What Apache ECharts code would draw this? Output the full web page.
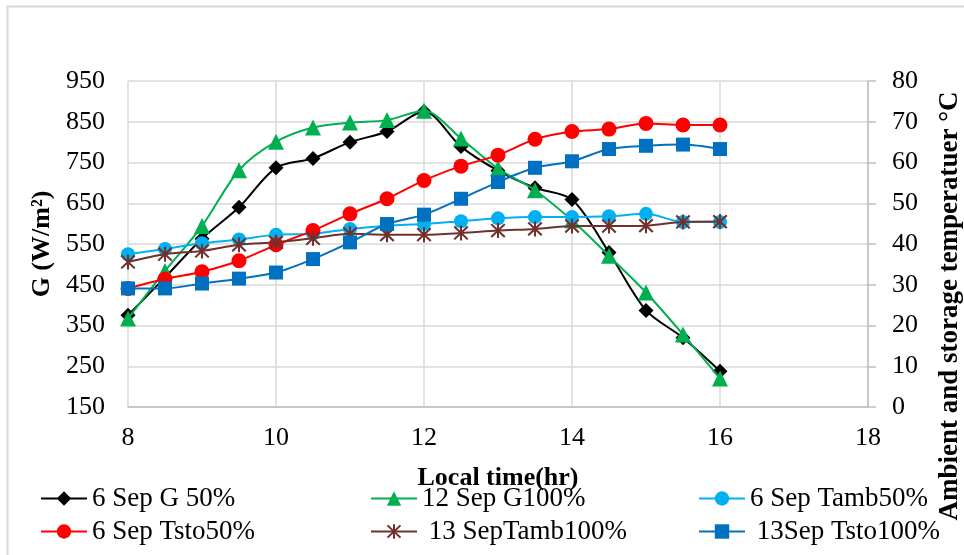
<!DOCTYPE html>
<html>
<head>
<meta charset="utf-8">
<script src="https://cdn.jsdelivr.net/npm/echarts@6/dist/echarts.min.js"></script>
<style>
html,body{margin:0;padding:0;background:#fff;}
#chart{width:964px;height:555px;}
</style>
</head>
<body>
<div id="chart"></div>
<script>
// ---- data ----
var hours = [8, 8.5, 9, 9.5, 10, 10.5, 11, 11.5, 12, 12.5, 13, 13.5, 14, 14.5, 15, 15.5, 16];
var g50Sep6 = [375, 468, 563, 640, 737, 760, 800, 826, 875, 789, 730, 688, 659, 529, 387, 320, 238];
var g100Sep12 = [367, 484, 594, 731, 801, 836, 848, 854, 877, 809, 735, 682, 608, 521, 431, 328, 220];
var tamb50Sep6 = [37.5, 38.8, 40.2, 41.1, 42.3, 42.5, 43.7, 44.5, 44.9, 45.6, 46.3, 46.6, 46.6, 46.8, 47.4, 45.4, 45.4];
var tsto50Sep6 = [29.1, 31.4, 33.2, 35.9, 39.8, 43.3, 47.4, 51.1, 55.6, 59.1, 61.8, 65.7, 67.6, 68.2, 69.6, 69.2, 69.2];
var tamb100Sep13 = [35.6, 37.5, 38.3, 39.8, 40.4, 41.4, 42.5, 42.3, 42.3, 42.7, 43.3, 43.7, 44.4, 44.4, 44.5, 45.4, 45.5];
var tsto100Sep13 = [29.1, 29.1, 30.3, 31.5, 33.0, 36.3, 40.4, 44.9, 47.2, 51.1, 55.2, 58.7, 60.3, 63.3, 64.1, 64.4, 63.3];
var seriesNames = ['6 Sep G 50%', '12 Sep G100%', '6 Sep Tamb50%', '6 Sep Tsto50%', '13 SepTamb100%', '13Sep Tsto100%'];
var gTicks = [150, 250, 350, 450, 550, 650, 750, 850, 950];
var xTitle = 'Local time(hr)';
var leftTitle = 'G (W/m²)';
var rightTitle = 'Ambient and storage temperatuer °C';

function pairs(vals) { return hours.map(function (h, i) { return [h, vals[i]]; }); }

var FONT = '"Liberation Serif", "Times New Roman", serif';
var starPath = 'path://M8.7 0 L11.3 0 L11.3 20 L8.7 20 Z M0.5 2.4 L2.4 0.5 L19.5 17.6 L17.6 19.5 Z M17.6 0.5 L19.5 2.4 L2.4 19.5 L0.5 17.6 Z';

var styles = [
  {color: '#000000', symbol: 'diamond', size: 15, y: 0, data: g50Sep6},
  {color: '#00b050', symbol: 'triangle', size: 16, y: 0, data: g100Sep12},
  {color: '#00b0f0', symbol: 'circle', size: 14, y: 1, data: tamb50Sep6},
  {color: '#ff0000', symbol: 'circle', size: 15, y: 1, data: tsto50Sep6},
  {color: '#70302c', symbol: starPath, size: 15, y: 1, data: tamb100Sep13},
  {color: '#0070c0', symbol: 'rect', size: 14, y: 1, data: tsto100Sep13}
];

var series = styles.map(function (s, i) {
  return {
    name: seriesNames[i],
    type: 'line',
    yAxisIndex: s.y,
    data: pairs(s.data),
    smooth: 0.3,
    symbol: s.symbol,
    symbolSize: s.size,
    showAllSymbol: true,
    lineStyle: {color: s.color, width: 2},
    itemStyle: {color: s.color, borderWidth: 0},
    emphasis: {disabled: true},
    z: 2 + i
  };
});

var legendPos = [
  {left: 40, top: 485}, {left: 370, top: 485}, {left: 698, top: 485},
  {left: 40, top: 518}, {left: 370, top: 518}, {left: 698, top: 518}
];
var legends = seriesNames.map(function (n, i) {
  return {
    data: [n],
    left: legendPos[i].left,
    top: legendPos[i].top,
    itemWidth: 46,
    itemHeight: 18,
    padding: 0,
    selectedMode: false,
    formatter: (i >= 4) ? function (name) { return ' ' + name; } : '{name}',
    textStyle: {fontFamily: FONT, fontSize: 27, color: '#000'}
  };
});

var option = {
  animation: false,
  backgroundColor: '#ffffff',
  grid: {left: 128, right: 96, top: 81, bottom: 148, containLabel: false},
  graphic: [
    {type: 'rect', shape: {x: 7.5, y: 6.5, width: 1200, height: 1200}, style: {fill: 'none', stroke: '#d9d9d9', lineWidth: 2}, silent: true},
    {type: 'text', x: 950, y: 306, rotation: Math.PI / 2,
     style: {text: rightTitle, font: 'bold 27px ' + FONT, fill: '#000', align: 'center', verticalAlign: 'middle'}, silent: true}
  ],
  legend: legends,
  xAxis: {
    type: 'value', min: 8, max: 18, interval: 2,
    name: xTitle, nameLocation: 'middle', nameGap: 58,
    nameTextStyle: {fontFamily: FONT, fontSize: 26, fontWeight: 'bold', color: '#000'},
    axisLine: {show: true, lineStyle: {color: '#bfbfbf', width: 1.5}},
    axisTick: {show: false},
    axisLabel: {fontFamily: FONT, fontSize: 26, color: '#000', margin: 18},
    splitLine: {show: true, lineStyle: {color: '#d9d9d9', width: 1.5}}
  },
  yAxis: [
    {
      type: 'value', min: 150, max: 950, position: 'left',
      name: leftTitle, nameLocation: 'middle', nameGap: 68, nameRotate: 90,
      nameTextStyle: {fontFamily: FONT, fontSize: 26, fontWeight: 'bold', color: '#000'},
      axisLine: {show: false},
      axisTick: {show: false, customValues: gTicks},
      axisLabel: {fontFamily: FONT, fontSize: 26, color: '#000', margin: 23, customValues: gTicks},
      splitLine: {show: true, lineStyle: {color: '#d9d9d9', width: 1.5}}
    },
    {
      type: 'value', min: 0, max: 80, interval: 10, position: 'right',
      axisLine: {show: true, lineStyle: {color: '#bfbfbf', width: 1.5}},
      axisTick: {show: true, inside: false, length: 8, lineStyle: {color: '#bfbfbf', width: 1.5}},
      axisLabel: {fontFamily: FONT, fontSize: 26, color: '#000', margin: 24},
      splitLine: {show: false}
    }
  ],
  series: series
};

var chart = echarts.init(document.getElementById('chart'), null, {renderer: 'canvas'});
chart.setOption(option);
</script>
</body>
</html>
